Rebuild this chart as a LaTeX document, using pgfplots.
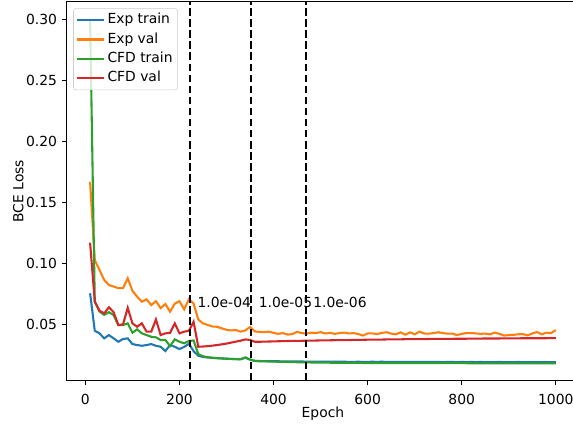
\documentclass[border=0pt]{standalone}
\usepackage{fontspec}
\setmainfont{DejaVu Sans}
\usepackage{pgfplots}
\usepackage{pgfplotstable}
\pgfplotsset{compat=1.18}
\definecolor{tabblue}{HTML}{1F77B4}
\definecolor{taborange}{HTML}{FF7F0E}
\definecolor{tabgreen}{HTML}{2CA02C}
\definecolor{tabred}{HTML}{D62728}

% epoch, exp train, exp val, cfd train, cfd val
\pgfplotstableread{
epoch expt expv cfdt cfdv
10 0.0755 0.1670 0.3005 0.1170
20 0.0447 0.1028 0.0686 0.0686
30 0.0426 0.0946 0.0605 0.0612
40 0.0385 0.0864 0.0578 0.0590
50 0.0412 0.0823 0.0600 0.0640
60 0.0385 0.0810 0.0576 0.0600
70 0.0357 0.0797 0.0494 0.0494
80 0.0379 0.0797 0.0494 0.0500
90 0.0385 0.0878 0.0508 0.0635
100 0.0338 0.0775 0.0431 0.0508
110 0.0330 0.0727 0.0459 0.0480
120 0.0324 0.0686 0.0426 0.0508
130 0.0330 0.0705 0.0412 0.0440
140 0.0338 0.0658 0.0398 0.0440
150 0.0324 0.0690 0.0393 0.0540
160 0.0316 0.0633 0.0371 0.0412
170 0.0281 0.0667 0.0371 0.0426
180 0.0330 0.0604 0.0322 0.0430
190 0.0316 0.0670 0.0377 0.0508
200 0.0297 0.0690 0.0357 0.0426
210 0.0315 0.0623 0.0344 0.0440
220 0.0340 0.0706 0.0363 0.0447
230 0.0280 0.0670 0.0368 0.0521
240 0.0242 0.0540 0.0256 0.0316
250 0.0232 0.0508 0.0238 0.0318
260 0.0228 0.0495 0.0230 0.0321
270 0.0225 0.0482 0.0226 0.0325
280 0.0222 0.0480 0.0223 0.0330
290 0.0220 0.0467 0.0220 0.0336
300 0.0218 0.0455 0.0218 0.0342
310 0.0216 0.0450 0.0216 0.0350
320 0.0215 0.0453 0.0214 0.0358
330 0.0214 0.0440 0.0213 0.0366
340 0.0226 0.0450 0.0228 0.0376
350 0.0210 0.0478 0.0212 0.0372
360 0.0200 0.0442 0.0200 0.0357
370 0.0199 0.0438 0.0197 0.0357
380 0.0198 0.0436 0.0196 0.0358
390 0.0198 0.0440 0.0195 0.0359
400 0.0197 0.0430 0.0194 0.0360
410 0.0197 0.0422 0.0193 0.0361
420 0.0196 0.0428 0.0192 0.0362
430 0.0196 0.0416 0.0191 0.0363
440 0.0195 0.0420 0.0190 0.0364
450 0.0195 0.0438 0.0189 0.0364
460 0.0195 0.0428 0.0188 0.0365
470 0.0194 0.0424 0.0188 0.0366
480 0.0194 0.0432 0.0187 0.0366
490 0.0194 0.0428 0.0187 0.0367
500 0.0193 0.0436 0.0186 0.0368
510 0.0193 0.0425 0.0186 0.0368
520 0.0193 0.0430 0.0185 0.0369
530 0.0194 0.0422 0.0185 0.0370
540 0.0193 0.0428 0.0185 0.0370
550 0.0193 0.0432 0.0184 0.0371
560 0.0192 0.0425 0.0184 0.0371
570 0.0192 0.0428 0.0184 0.0372
580 0.0193 0.0420 0.0184 0.0372
590 0.0192 0.0408 0.0183 0.0373
600 0.0192 0.0425 0.0183 0.0374
610 0.0193 0.0426 0.0183 0.0374
620 0.0192 0.0420 0.0183 0.0375
630 0.0193 0.0430 0.0183 0.0375
640 0.0192 0.0435 0.0182 0.0376
650 0.0192 0.0424 0.0182 0.0376
660 0.0191 0.0418 0.0182 0.0377
670 0.0192 0.0434 0.0182 0.0377
680 0.0191 0.0415 0.0182 0.0378
690 0.0191 0.0434 0.0182 0.0378
700 0.0192 0.0418 0.0182 0.0379
710 0.0191 0.0440 0.0181 0.0379
720 0.0191 0.0425 0.0181 0.0379
730 0.0192 0.0423 0.0181 0.0380
740 0.0191 0.0428 0.0181 0.0380
750 0.0191 0.0435 0.0181 0.0380
760 0.0190 0.0428 0.0181 0.0381
770 0.0191 0.0424 0.0181 0.0381
780 0.0191 0.0424 0.0181 0.0381
790 0.0190 0.0412 0.0181 0.0382
800 0.0191 0.0422 0.0181 0.0382
810 0.0190 0.0428 0.0181 0.0382
820 0.0191 0.0428 0.0180 0.0383
830 0.0190 0.0426 0.0180 0.0383
840 0.0191 0.0422 0.0180 0.0383
850 0.0190 0.0424 0.0180 0.0384
860 0.0190 0.0418 0.0180 0.0384
870 0.0190 0.0432 0.0180 0.0384
880 0.0191 0.0422 0.0180 0.0384
890 0.0190 0.0408 0.0180 0.0385
900 0.0190 0.0412 0.0180 0.0385
910 0.0190 0.0414 0.0180 0.0385
920 0.0191 0.0418 0.0180 0.0385
930 0.0190 0.0420 0.0180 0.0386
940 0.0190 0.0410 0.0180 0.0386
950 0.0189 0.0425 0.0180 0.0386
960 0.0190 0.0437 0.0180 0.0386
970 0.0190 0.0418 0.0180 0.0386
980 0.0189 0.0432 0.0180 0.0386
990 0.0190 0.0428 0.0180 0.0387
1000 0.0190 0.0453 0.0180 0.0387
}\losstab

\begin{document}
\begin{tikzpicture}
\begin{axis}[
    at={(0,0)}, anchor=south west,
    scale only axis,
    width=368.9pt, height=272.5pt,
    xmin=-39.5, xmax=1049.5,
    ymin=0.004, ymax=0.3146,
    xtick={0,200,400,600,800,1000},
    ytick={0.05,0.1,0.15,0.2,0.25,0.3},
    tick pos=left,
    tick align=outside,
    major tick length=3.5pt,
    every tick/.style={black, line width=0.8pt},
    axis line style={line width=0.8pt},
    scaled y ticks=false,
    /pgf/number format/assume math mode=true,
    /pgf/number format/1000 sep={},
    yticklabel style={/pgf/number format/.cd, fixed, fixed zerofill, precision=2},
    xticklabel style={anchor=base, inner sep=0pt, yshift=-14pt},
    ylabel={BCE Loss},
    xlabel={Epoch},
    every axis y label/.style={at={(rel axis cs:0,0.5)}, xshift=-31.3pt, rotate=90, anchor=base},
    every axis x label/.style={at={(rel axis cs:0.5,0)}, yshift=-26.8pt, anchor=base},
    legend cell align=left,
    legend image code/.code={\draw[#1, line width=1.5pt] (0pt,0pt) -- (19.4pt,0pt);},
    legend style={at={(rel axis cs:0.0125,0.9836)}, anchor=north west,
        draw=black!20, rounded corners=2pt, fill=white, fill opacity=0.8, text opacity=1,
        inner xsep=1.7pt, inner ysep=1.8pt, row sep=0.5pt,
        nodes={inner sep=1.9pt, text height=7.3pt, text depth=2.3pt},
        /tikz/every even column/.style={column sep=6.5pt}},
    every axis plot/.append style={line width=1.5pt},
]
\addplot[tabblue] table[x=epoch, y=expt] {\losstab};
\addplot[taborange] table[x=epoch, y=expv] {\losstab};
\addplot[tabgreen] table[x=epoch, y=cfdt] {\losstab};
\addplot[tabred] table[x=epoch, y=cfdv] {\losstab};
\legend{Exp train, Exp val, CFD train, CFD val}

% learning-rate drops
\addplot[black, dash pattern=on 5.55pt off 2.4pt, forget plot] coordinates {(223,0.004) (223,0.3146)};
\addplot[black, dash pattern=on 5.55pt off 2.4pt, forget plot] coordinates {(353,0.004) (353,0.3146)};
\addplot[black, dash pattern=on 5.55pt off 2.4pt, forget plot] coordinates {(469,0.004) (469,0.3146)};
\node[anchor=west, inner sep=0pt] at (axis cs:238,0.0677) {1.0e-04};
\node[anchor=west, inner sep=0pt] at (axis cs:368,0.0677) {1.0e-05};
\node[anchor=west, inner sep=0pt] at (axis cs:484,0.0677) {1.0e-06};
\end{axis}
\pgfresetboundingbox
\path[use as bounding box] (-48.1pt,-32pt) rectangle (364.5pt,273.9pt);
\end{tikzpicture}
\end{document}
